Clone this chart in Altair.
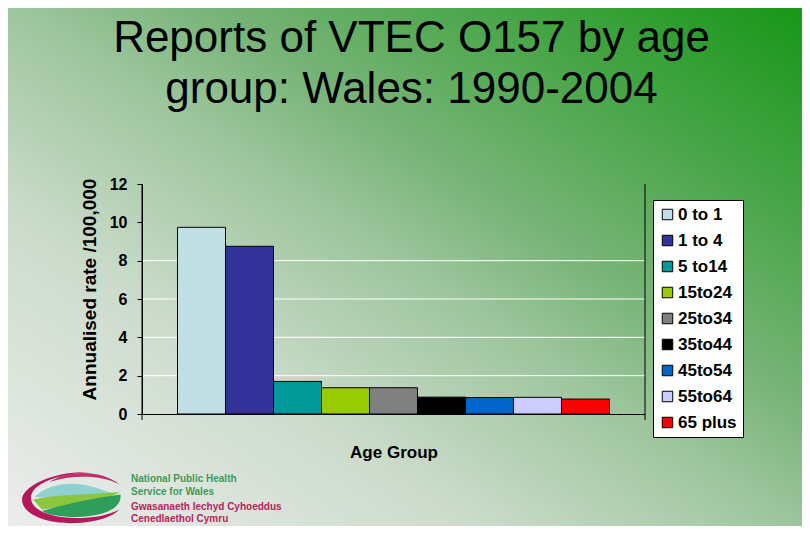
import altair as alt
import pandas as pd

# ---- data ----
ages = ["0 to 1", "1 to 4", "5 to14", "15to24", "25to34", "35to44", "45to54", "55to64", "65 plus"]
rates = [9.74, 8.75, 1.70, 1.37, 1.37, 0.88, 0.86, 0.87, 0.78]
colors = ["#c0e0e6", "#333399", "#009999", "#99cc00", "#808080", "#000000", "#0066cc", "#ccccff", "#ff0000"]
y_ticks = [0, 2, 4, 6, 8, 10, 12]
grid_vals = [2, 4, 6, 8]
title_lines = ["Reports of VTEC O157 by age", "group: Wales: 1990-2004"]
logo_green = ["National Public Health", "Service for Wales"]
logo_red = ["Gwasanaeth Iechyd Cyhoeddus", "Cenedlaethol Cymru"]

W, H = 503, 230
FONT = "Liberation Sans"

df = pd.DataFrame({"age": ages, "rate": rates})
grid_df = pd.DataFrame({"rate": grid_vals})
one = pd.DataFrame({"k": [0]})

y_axis = alt.Axis(
    values=y_ticks, grid=False, tickSize=5, tickColor="black", domainColor="black",
    labelFont=FONT, labelFontSize=16, labelFontWeight="bold", labelColor="black",
    labelPadding=10, title="Annualised rate /100,000", titleFont=FONT,
    titleFontSize=19, titleFontWeight="bold", titleColor="black", titlePadding=10,
    titleY=105, zindex=1,
)
y_scale = alt.Scale(domain=[0, 12], nice=False)

bg = alt.Chart(one).mark_rect(
    color=alt.LinearGradient(
        gradient="linear",
        stops=[
            alt.GradientStop(offset=0.0, color="#eeeeee"),
            alt.GradientStop(offset=0.3, color="#cddccd"),
            alt.GradientStop(offset=0.5, color="#9ec69e"),
            alt.GradientStop(offset=0.62, color="#78b478"),
            alt.GradientStop(offset=0.8, color="#46a546"),
            alt.GradientStop(offset=1.0, color="#149614"),
        ],
        x1=0, y1=1, x2=1, y2=0,
    )
).encode(x=alt.value(-142), x2=alt.value(668), y=alt.value(-184), y2=alt.value(356))

grid = alt.Chart(grid_df).mark_rule(color="white", strokeWidth=1).encode(
    y=alt.Y("rate:Q", scale=y_scale, axis=y_axis)
)

bars = alt.Chart(df).mark_bar(stroke="black", strokeWidth=1).encode(
    x=alt.X("age:N", sort=ages,
            scale=alt.Scale(paddingInner=0, paddingOuter=0.74),
            axis=alt.Axis(labels=False, ticks=False, domainColor="black",
                          title="Age Group", titleFont=FONT, titleFontSize=17,
                          titleFontWeight="bold", titleColor="black",
                          titlePadding=30, zindex=1)),
    y=alt.Y("rate:Q", scale=y_scale, axis=y_axis),
    color=alt.Color("age:N", sort=ages,
                    scale=alt.Scale(domain=ages, range=colors),
                    legend=alt.Legend(
                        title=None, orient="none", legendX=511, legendY=16,
                        fillColor="white", strokeColor="black", padding=6,
                        symbolType="square", symbolSize=110,
                        symbolStrokeColor="black", symbolStrokeWidth=1,
                        labelFont=FONT, labelFontSize=17, labelFontWeight="bold",
                        labelColor="black", labelOffset=2, rowPadding=8,
                        labelLimit=200, zindex=1)),
)

left_rule = alt.Chart(one).mark_rule(color="black").encode(
    x=alt.value(0), y=alt.value(0), y2=alt.value(H + 6))
right_rule = alt.Chart(one).mark_rule(color="black").encode(
    x=alt.value(W), y=alt.value(0), y2=alt.value(H + 6))

t1 = alt.Chart(one).mark_text(text=title_lines[0], font=FONT, fontSize=44,
                              align="center", baseline="alphabetic", color="black"
                              ).encode(x=alt.value(269.5), y=alt.value(-132))
t2 = alt.Chart(one).mark_text(text=title_lines[1], font=FONT, fontSize=44,
                              align="center", baseline="alphabetic", color="black"
                              ).encode(x=alt.value(269.5), y=alt.value(-81))

# logo decoration
LX, LY = -70, 313
shapes = [
    ("M0.35,-0.5 C-0.4,-0.52 -1,-0.2 -1,0.05 C-1,0.35 -0.5,0.55 0.1,0.52 C0.5,0.5 0.8,0.4 0.95,0.25 "
     "C0.7,0.38 0.4,0.42 0.1,0.42 C-0.45,0.42 -0.82,0.25 -0.82,0.02 C-0.82,-0.25 -0.35,-0.45 0.35,-0.5 Z", "#b5195b"),
    ("M-0.45,-0.3 C-0.1,-0.55 0.6,-0.55 0.95,-0.25 C0.6,-0.45 0,-0.45 -0.45,-0.3 Z", "#c2306a"),
    ("M-0.75,0.0 C-0.5,-0.25 -0.1,-0.3 0.2,-0.25 C0.5,-0.2 0.7,-0.1 0.9,-0.05 C0.5,0.0 0,0.05 -0.75,0.0 Z", "#8fd0d0"),
    ("M-0.78,0.05 C-0.3,-0.05 0.4,-0.05 0.95,-0.1 C0.7,0.05 0.2,0.15 -0.6,0.25 Z", "#8cc63f"),
    ("M-0.6,0.28 C0,0.1 0.6,0.0 0.97,-0.05 C1.0,0.2 0.7,0.38 0.1,0.4 C-0.25,0.4 -0.5,0.35 -0.6,0.28 Z", "#2e9e5b"),
]
logo_layers = [
    alt.Chart(one).mark_point(shape=p, filled=True, size=10000, color=c, opacity=1, strokeWidth=0)
    .encode(x=alt.value(LX), y=alt.value(LY))
    for p, c in shapes
]
logo_texts = []
for txt, yy in zip(logo_green, [295, 308]):
    logo_texts.append(alt.Chart(one).mark_text(text=txt, font=FONT, fontSize=10, fontWeight="bold",
                                               align="left", baseline="middle", color="#3d9a5a")
                      .encode(x=alt.value(-11), y=alt.value(yy)))
for txt, yy in zip(logo_red, [323, 335]):
    logo_texts.append(alt.Chart(one).mark_text(text=txt, font=FONT, fontSize=10, fontWeight="bold",
                                               align="left", baseline="middle", color="#b5255e")
                      .encode(x=alt.value(-11), y=alt.value(yy)))

chart = alt.layer(bg, grid, bars, left_rule, right_rule, t1, t2, *logo_layers, *logo_texts).properties(
    width=W, height=H,
    autosize=alt.AutoSizeParams(type="none"),
    padding={"left": 134, "top": 176, "right": 157, "bottom": 112},
    background="#eeeeee",
).configure_view(stroke="transparent")

chart.save("out.html", embed_options={"renderer": "svg", "actions": False})
